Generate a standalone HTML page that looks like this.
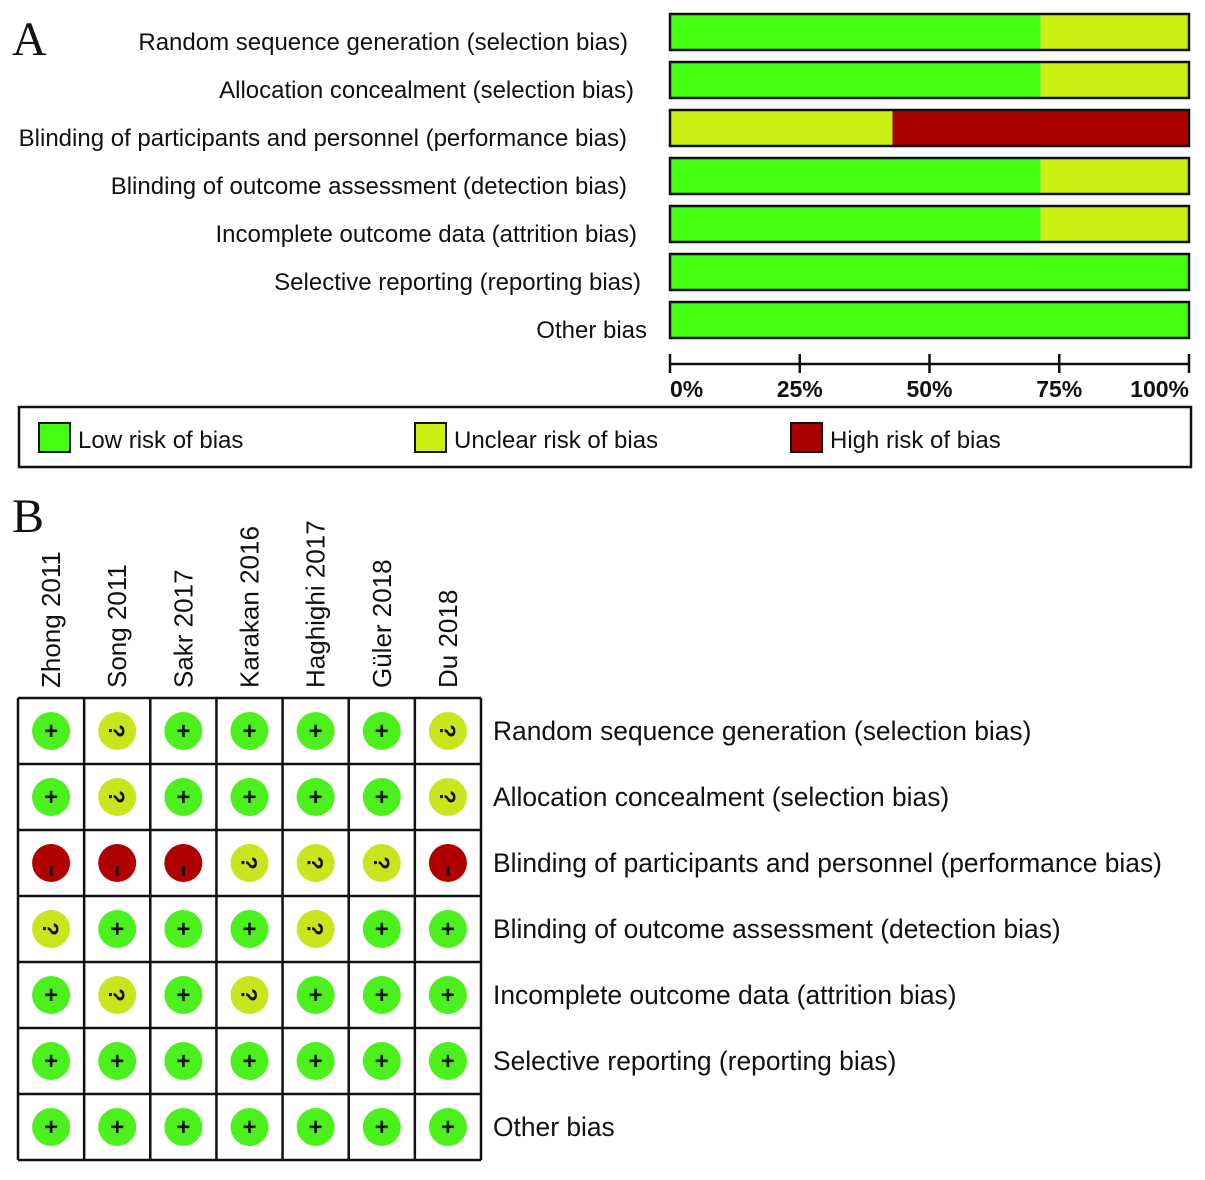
<!DOCTYPE html>
<html><head><meta charset="utf-8"><style>
body{margin:0;background:#fff;}
svg text{font-family:"Liberation Sans",Arial,sans-serif;fill:#111;}
</style></head><body>
<svg id="chart" width="1205" height="1175" viewBox="0 0 1205 1175" xmlns="http://www.w3.org/2000/svg">
<text x="12" y="55" style="font-family:'Liberation Serif',serif" font-size="48">A</text>
<text x="12" y="532" style="font-family:'Liberation Serif',serif" font-size="48">B</text>
<g id="bars"></g>
<g id="axis"></g>
<g id="legend">
<rect x="19" y="407" width="1172" height="60" fill="#fff" stroke="#111" stroke-width="2.5"/>
<rect x="39" y="423" width="31" height="29" fill="#44ff11" stroke="#111" stroke-width="2"/>
<text x="78" y="448" font-size="24">Low risk of bias</text>
<rect x="415" y="423" width="31" height="29" fill="#ccee11" stroke="#111" stroke-width="2"/>
<text x="454" y="448" font-size="24">Unclear risk of bias</text>
<rect x="791" y="423" width="31" height="29" fill="#aa0000" stroke="#111" stroke-width="2"/>
<text x="830" y="448" font-size="24">High risk of bias</text>
</g>
<g id="grid"></g>
</svg>
<script>
const domains = ["Random sequence generation (selection bias)","Allocation concealment (selection bias)","Blinding of participants and personnel (performance bias)","Blinding of outcome assessment (detection bias)","Incomplete outcome data (attrition bias)","Selective reporting (reporting bias)","Other bias"];
const studies = ["Zhong 2011","Song 2011","Sakr 2017","Karakan 2016","Haghighi 2017","Güler 2018","Du 2018"];
const judgements = [
 ["+","?","+","+","+","+","?"],
 ["+","?","+","+","+","+","?"],
 ["-","-","-","?","?","?","-"],
 ["?","+","+","+","?","+","+"],
 ["+","?","+","?","+","+","+"],
 ["+","+","+","+","+","+","+"],
 ["+","+","+","+","+","+","+"]
];
const tickLabels = ["0%","25%","50%","75%","100%"];
const tickValues = [0,25,50,75,100];
const labelRight = [628,634,627,627,637,641,647];

const NS="http://www.w3.org/2000/svg";
function mk(tag,attrs,parent){const e=document.createElementNS(NS,tag);for(const k in attrs)e.setAttribute(k,attrs[k]);parent.appendChild(e);return e;}
const colors={"+":"#44ff11","?":"#ccee11","-":"#aa0000"};
const dotColors={"+":"#4cf01c","?":"#c9e51e","-":"#b00000"};
const X0=670,X1=1189;
const xScale=v=>X0+(X1-X0)*v/100;
const rowY=i=>14+i*48;
const bars=document.getElementById('bars');
domains.forEach((d,i)=>{
  const row=judgements[i];
  const n=row.length;
  let acc=0;
  ["+","?","-"].forEach(k=>{
    const c=row.filter(v=>v===k).length;
    if(!c)return;
    const p=100*c/n;
    const r=mk('rect',{x:xScale(acc),y:rowY(i),width:xScale(acc+p)-xScale(acc),height:36,fill:colors[k]},bars);
    
    
    acc+=p;
  });
  const o=mk('rect',{x:X0,y:rowY(i),width:X1-X0,height:36,fill:'none',stroke:'#111','stroke-width':2.5},bars);
  
  
  const t=mk('text',{x:labelRight[i],y:rowY(i)+36,'font-size':24,'text-anchor':'end'},bars);
  t.textContent=d;
  
  
});
const axis=document.getElementById('axis');
const al=mk('line',{x1:X0,x2:X1,y1:364,y2:364,stroke:'#111','stroke-width':2.5},axis);


tickValues.forEach((v,i)=>{
  const tk=mk('line',{x1:xScale(v),x2:xScale(v),y1:354,y2:373,stroke:'#111','stroke-width':2.5},axis);
  
  
  const anchor=i===0?'start':(i===tickValues.length-1?'end':'middle');
  const t=mk('text',{x:xScale(v),y:397,'font-size':23,'font-weight':'bold','text-anchor':anchor},axis);
  t.textContent=tickLabels[i];
  
  
});
const grid=document.getElementById('grid');
const GX0=18,GX1=481,GY0=698,GY1=1160;
const cw=(GX1-GX0)/studies.length, ch=(GY1-GY0)/domains.length;
studies.forEach((s,j)=>{
  const cx=GX0+cw*(j+0.5);
  const t=mk('text',{x:0,y:0,'font-size':26,transform:`translate(${cx+9},688) rotate(-90)`},grid);
  t.textContent=s;
  
  
});
judgements.forEach((row,i)=>{
  const cy=GY0+ch*(i+0.5);
  row.forEach((v,j)=>{
    const cx=GX0+cw*(j+0.5);
    const c=mk('circle',{cx:cx,cy:cy,r:19,fill:dotColors[v]},grid);
    
    
    let sym;
    if(v==="+"){sym=mk('text',{x:cx,y:cy+8,'font-size':24,'font-weight':'bold','text-anchor':'middle'},grid);sym.textContent="+";}
    else if(v==="?"){sym=mk('text',{x:cx,y:cy+8,'font-size':22,'font-weight':'bold','text-anchor':'middle',transform:`rotate(90 ${cx} ${cy})`},grid);sym.textContent="?";}
    else{sym=mk('rect',{x:cx-1.5,y:cy+3,width:3,height:10,fill:'#111'},grid);}
    
    
  });
  const t=mk('text',{x:493,y:cy+9,'font-size':26.4},grid);
  t.textContent=domains[i];
  
  
});
for(let j=0;j<=studies.length;j++){
  const l=mk('line',{x1:GX0+cw*j,x2:GX0+cw*j,y1:GY0,y2:GY1,stroke:'#111','stroke-width':2.5},grid);
  
  
}
for(let i=0;i<=domains.length;i++){
  const l=mk('line',{x1:GX0,x2:GX1,y1:GY0+ch*i,y2:GY0+ch*i,stroke:'#111','stroke-width':2.5},grid);
  
  
}
</script>
</body></html>
